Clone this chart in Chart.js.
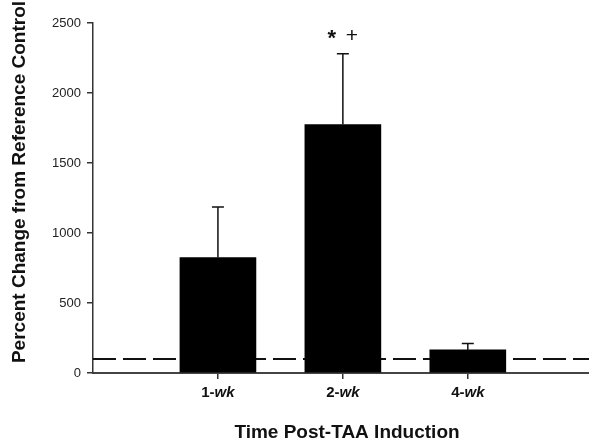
<!DOCTYPE html>
<html>
<head>
<meta charset="utf-8">
<script src="https://cdn.jsdelivr.net/npm/chart.js@4"></script>
<style>
  html, body { margin: 0; padding: 0; background: #fff; }
  #chart { display: block; }
</style>
</head>
<body>
<canvas id="chart" width="589" height="444"></canvas>
<script>
const categories = ['1-wk', '2-wk', '4-wk'];
const means = [825, 1775, 165];
const sem = [360, 505, 45];
const sigLabels = ['', '* +', ''];
const refLine = 100;
const yTicks = [0, 500, 1000, 1500, 2000, 2500];
const yTitle = 'Percent Change from Reference Control';
const xTitle = 'Time Post-TAA Induction';

const FONT = "'Liberation Sans', Arial, Helvetica, sans-serif";

// dashed control line, error bars, labels
const extras = {
  id: 'extras',
  beforeDatasetsDraw(chart) {
    const { ctx, chartArea, scales: { y } } = chart;
    const py = y.getPixelForValue(refLine);
    ctx.save();
    ctx.strokeStyle = '#111';
    ctx.lineWidth = 2;
    ctx.setLineDash([23, 7]);
    ctx.beginPath();
    ctx.moveTo(chartArea.left, py);
    ctx.lineTo(chartArea.right, py);
    ctx.stroke();
    ctx.restore();
  },
  afterDatasetsDraw(chart) {
    const { ctx, scales: { x, y } } = chart;
    ctx.save();
    ctx.strokeStyle = '#111';
    ctx.lineWidth = 1.5;
    means.forEach((m, i) => {
      const px = x.getPixelForValue(i + 1);
      const y0 = y.getPixelForValue(m);
      const y1 = y.getPixelForValue(m + sem[i]);
      ctx.beginPath();
      ctx.moveTo(px, y0);
      ctx.lineTo(px, y1);
      ctx.moveTo(px - 6, y1);
      ctx.lineTo(px + 6, y1);
      ctx.stroke();

      if (sigLabels[i]) {
        const parts = sigLabels[i].split(' ');
        ctx.fillStyle = '#111';
        ctx.textAlign = 'center';
        ctx.textBaseline = 'alphabetic';
        ctx.font = 'bold 22px ' + FONT;
        ctx.fillText(parts[0], px - 11, y1 - 9);
        ctx.font = '21px ' + FONT;
        ctx.fillText(parts[1], px + 9, y1 - 12);
      }
    });
    ctx.restore();
  },
  afterDraw(chart) {
    const { ctx, scales: { x } } = chart;
    ctx.save();
    ctx.fillStyle = '#111';
    ctx.textBaseline = 'middle';

    // tick labels: number bold, "wk" bold italic
    categories.forEach((c, i) => {
      const px = x.getPixelForValue(i + 1);
      const [num, unit] = c.split('-');
      const a = num + '-';
      ctx.font = 'bold 15px ' + FONT;
      const wa = ctx.measureText(a).width;
      ctx.font = 'italic bold 15px ' + FONT;
      const wb = ctx.measureText(unit).width;
      const sx = px - (wa + wb) / 2;
      ctx.textAlign = 'left';
      ctx.font = 'bold 15px ' + FONT;
      ctx.fillText(a, sx, 393);
      ctx.font = 'italic bold 15px ' + FONT;
      ctx.fillText(unit, sx + wa, 393);
    });

    // axis titles
    ctx.font = 'bold 19px ' + FONT;
    ctx.textAlign = 'center';
    ctx.fillText(xTitle, 347, 433);

    ctx.translate(20, 182);
    ctx.rotate(-Math.PI / 2);
    ctx.fillText(yTitle, 0, 0);
    ctx.restore();
  }
};

new Chart(document.getElementById('chart'), {
  type: 'bar',
  data: {
    datasets: [{
      data: means.map((v, i) => ({ x: i + 1, y: v })),
      backgroundColor: '#000',
      borderWidth: 0,
      barThickness: 76
    }]
  },
  options: {
    responsive: false,
    animation: false,
    devicePixelRatio: 1,
    layout: { padding: { top: 23, left: 0, right: 0, bottom: 0 } },
    plugins: { legend: { display: false }, tooltip: { enabled: false } },
    scales: {
      x: {
        type: 'linear',
        offset: false,
        min: 0,
        max: 3.97,
        afterBuildTicks: (scale) => { scale.ticks = [1, 2, 3].map(v => ({ value: v })); },
        afterFit: (scale) => { scale.height = 71; },
        ticks: { callback: () => '', font: { size: 14 } },
        grid: { offset: false, drawOnChartArea: false, tickLength: 6, color: '#333', lineWidth: 1.5 },
        border: { color: '#444', width: 2 }
      },
      y: {
        min: 0,
        max: 2500,
        afterBuildTicks: (scale) => { scale.ticks = yTicks.map(v => ({ value: v })); },
        afterFit: (scale) => { scale.width = 93; },
        ticks: {
          color: '#222',
          padding: 6,
          font: { size: 13, family: FONT },
          callback: (v) => String(v)
        },
        grid: { drawOnChartArea: false, tickLength: 6, color: '#333', lineWidth: 1.5 },
        border: { color: '#333', width: 1.5 }
      }
    }
  },
  plugins: [extras]
});
</script>
</body>
</html>
